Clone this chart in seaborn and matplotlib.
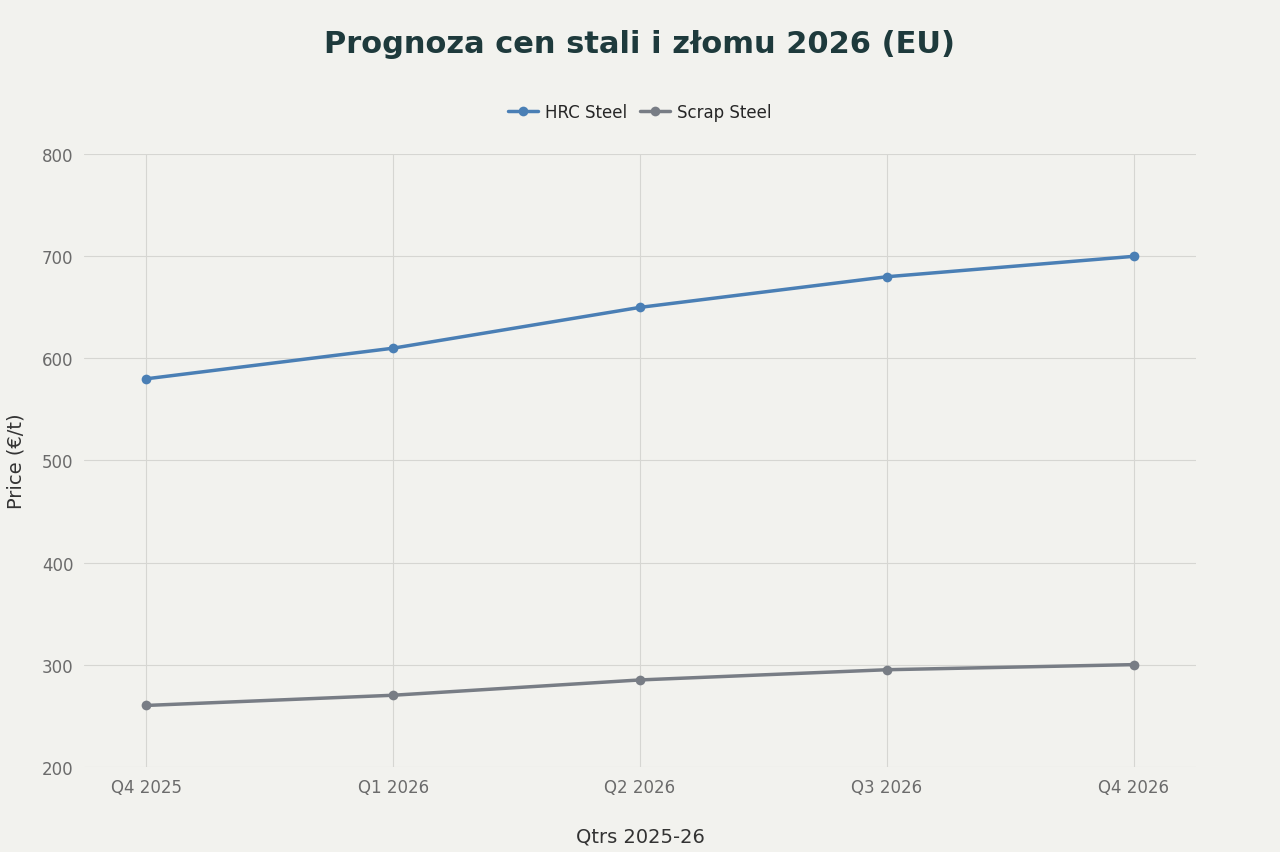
import pandas as pd
import seaborn as sns
from matplotlib import pyplot as plt

quarters = ["Q4 2025", "Q1 2026", "Q2 2026", "Q3 2026", "Q4 2026"]
hrc_steel = [580, 610, 650, 680, 700]
scrap_steel = [260, 270, 285, 295, 300]

df = pd.DataFrame({
    "Quarter": quarters * 2,
    "Price": hrc_steel + scrap_steel,
    "Series": ["HRC Steel"] * len(quarters) + ["Scrap Steel"] * len(quarters),
})

bg = "#F2F2EE"
sns.set_theme(style="whitegrid")
plt.rcParams["font.family"] = ["DejaVu Sans"]

fig = plt.figure(figsize=(12.8, 8.53), dpi=100, facecolor=bg)
ax = fig.add_axes([0.066, 0.1, 0.868, 0.718], facecolor=bg)

palette = {"HRC Steel": "#4A7FB5", "Scrap Steel": "#787D85"}
sns.lineplot(data=df, x="Quarter", y="Price", hue="Series", palette=palette,
             marker="o", markersize=7, markeredgewidth=0, linewidth=2.5,
             sort=False, ax=ax)

ax.set_xlim(-0.25, 4.25)
ax.set_ylim(200, 800)
ax.set_yticks(range(200, 801, 100))
ax.grid(True, color="#D6D6D2", linewidth=0.8)
for s in ax.spines.values():
    s.set_visible(False)
ax.tick_params(axis="both", colors="#6B6B6B", labelsize=12, length=0, pad=8)
ax.set_xlabel("Qtrs 2025-26", fontsize=14, color="#333333", labelpad=22)
ax.set_ylabel("Price (€/t)", fontsize=14, color="#333333", labelpad=12)

ax.legend(loc="lower center", bbox_to_anchor=(0.5, 1.03), ncol=2, frameon=False,
          fontsize=12, handlelength=1.8, columnspacing=0.8, handletextpad=0.4)
fig.suptitle("Prognoza cen stali i złomu 2026 (EU)", y=0.965, fontsize=22,
             fontweight="bold", color="#1E3A3C")

fig.savefig("out.png", dpi=100, facecolor=bg)
